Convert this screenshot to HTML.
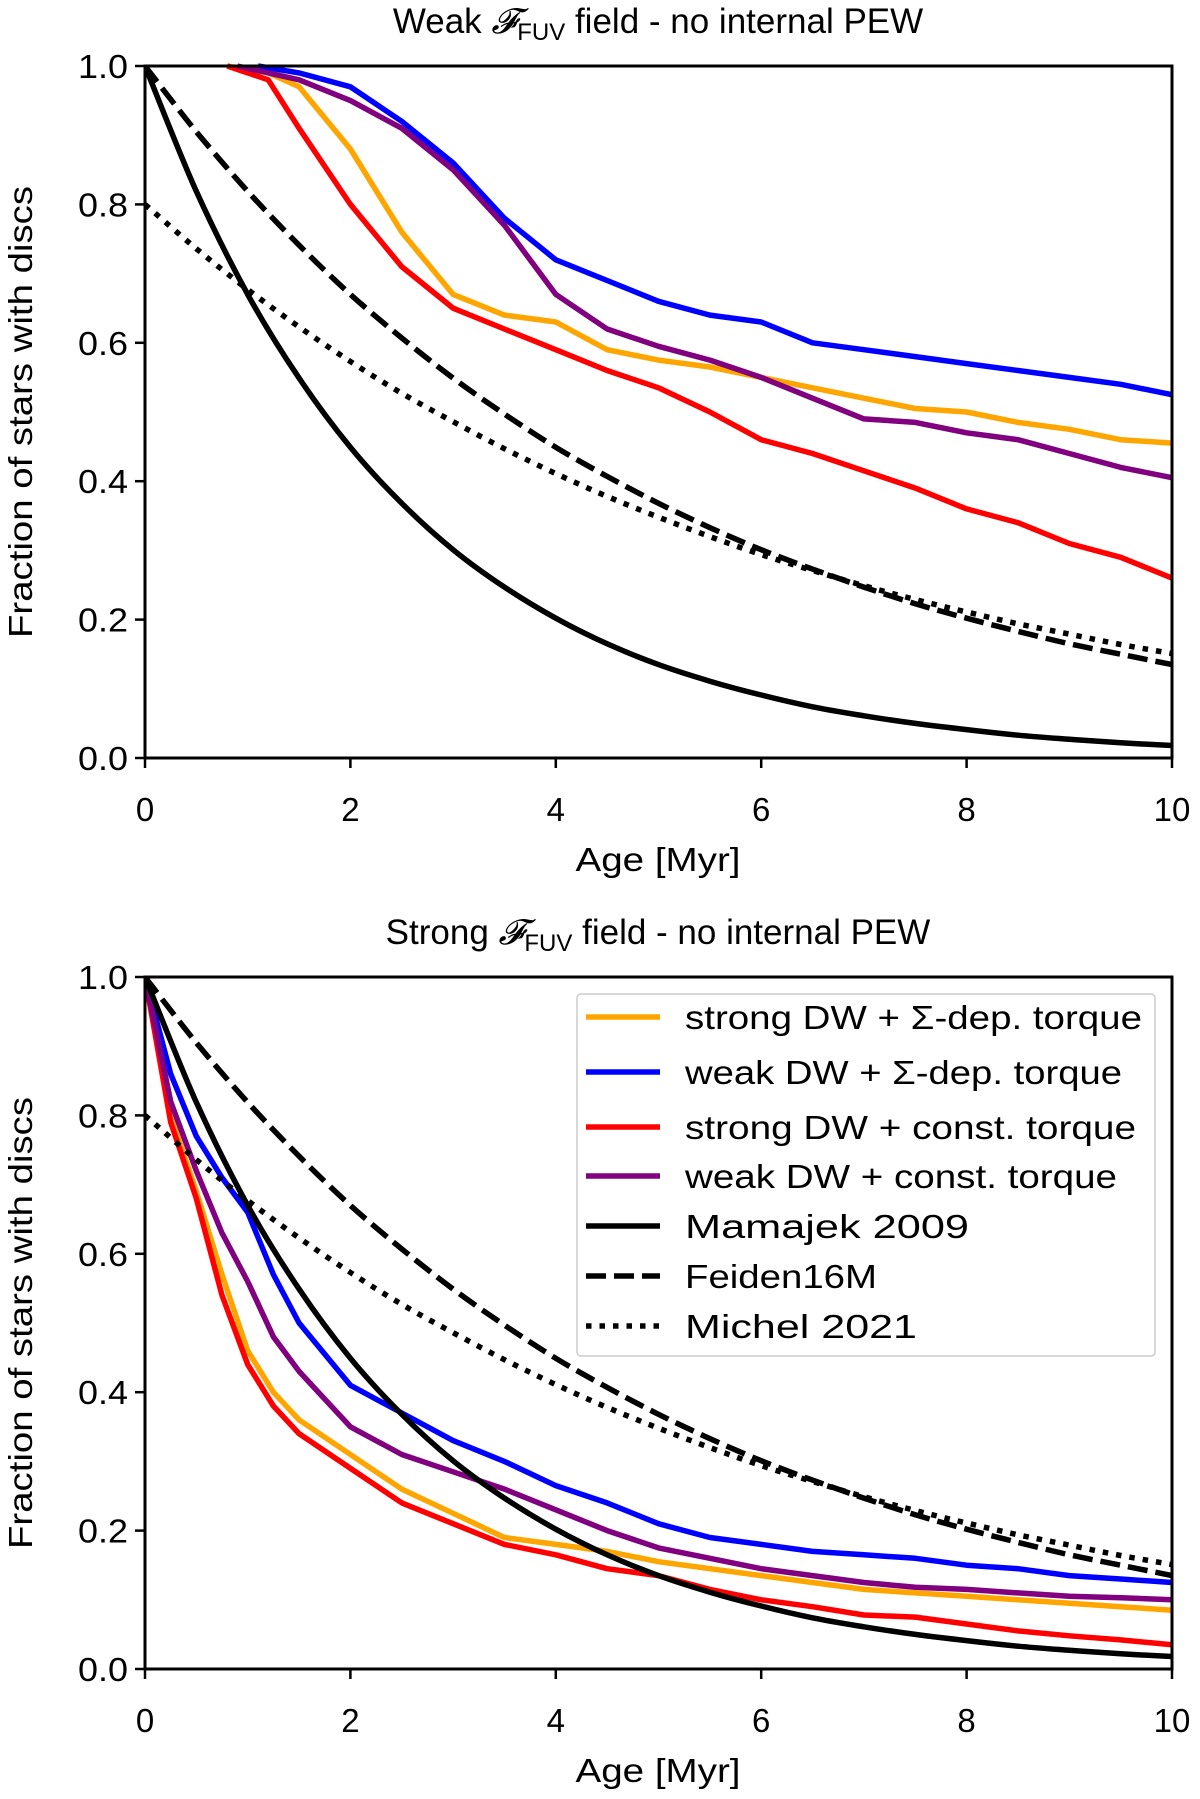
<!DOCTYPE html>
<html><head><meta charset="utf-8">
<style>
html,body{margin:0;padding:0;background:#fff;}
svg{display:block;font-family:"Liberation Sans","DejaVu Sans",sans-serif;}
</style></head>
<body>
<svg id="fig" width="1200" height="1799" viewBox="0 0 1200 1799" xmlns="http://www.w3.org/2000/svg"></svg>
<script>
// ---- data ----
const modelT = [0,0.5,1,1.5,2,2.5,3,3.5,4,4.5,5,5.5,6,6.5,7,7.5,8,8.5,9,9.5,10];
const mamajek = [1,.819,.670,.549,.449,.368,.301,.247,.202,.165,.135,.111,.091,.074,.061,.050,.041,.033,.027,.022,.018];
const feiden = [1,.905,.819,.741,.670,.607,.549,.497,.449,.407,.368,.333,.301,.273,.247,.223,.202,.183,.165,.150,.135];
const michel = [.800,.736,.677,.623,.573,.527,.486,.447,.411,.378,.348,.320,.294,.271,.249,.229,.211,.194,.179,.164,.151];

// top panel (weak field)
const wBlueT = [1.1,1.5,2,2.5,3,3.5,4,4.5,5,5.5,6,6.5,7,7.5,8,8.5,9,9.5,10];
const wBlueV = [1.0,0.99,0.97,0.92,0.86,0.78,0.72,0.69,0.66,0.64,0.63,0.60,0.59,0.58,0.57,0.56,0.55,0.54,0.525];
const wOrangeT = [0.8,1.2,1.5,2,2.5,3,3.5,4,4.5,5,5.5,6,6.5,7,7.5,8,8.5,9,9.5,10];
const wOrangeV = [1.0,0.99,0.97,0.88,0.76,0.67,0.64,0.63,0.59,0.575,0.565,0.55,0.535,0.52,0.505,0.50,0.485,0.475,0.46,0.455];
const wRedT = [0.8,1.2,1.5,2,2.5,3,3.5,4,4.5,5,5.5,6,6.5,7,7.5,8,8.5,9,9.5,10];
const wRedV = [1.0,0.98,0.91,0.80,0.71,0.65,0.62,0.59,0.56,0.535,0.50,0.46,0.44,0.415,0.39,0.36,0.34,0.31,0.29,0.26];
const wPurpleT = [0.9,1.5,2,2.5,3,3.5,4,4.5,5,5.5,6,6.5,7,7.5,8,8.5,9,9.5,10];
const wPurpleV = [1.0,0.98,0.95,0.91,0.85,0.77,0.67,0.62,0.595,0.575,0.55,0.52,0.49,0.485,0.47,0.46,0.44,0.42,0.405];

// bottom panel (strong field)
const sT = [0,0.25,0.5,0.75,1,1.25,1.5,2,2.5,3,3.5,4,4.5,5,5.5,6,6.5,7,7.5,8,8.5,9,9.5,10];
const sBlueV = [1.0,0.86,0.77,0.71,0.66,0.57,0.50,0.41,0.37,0.33,0.30,0.265,0.24,0.21,0.19,0.18,0.17,0.165,0.16,0.15,0.145,0.135,0.13,0.125];
const sPurpleV = [1.0,0.82,0.72,0.63,0.56,0.48,0.43,0.35,0.31,0.285,0.26,0.23,0.20,0.175,0.16,0.145,0.135,0.125,0.118,0.115,0.11,0.105,0.103,0.10];
const sOrangeV = [1.0,0.80,0.69,0.57,0.46,0.40,0.36,0.31,0.26,0.225,0.19,0.18,0.17,0.155,0.145,0.135,0.125,0.115,0.11,0.105,0.10,0.095,0.09,0.085];
const sRedV = [1.0,0.79,0.68,0.54,0.44,0.38,0.34,0.29,0.24,0.21,0.18,0.165,0.145,0.135,0.115,0.10,0.09,0.078,0.075,0.065,0.055,0.048,0.042,0.035];

const xTicks = [0,2,4,6,8,10];
const yTicks = [0,0.2,0.4,0.6,0.8,1.0];
const legendLabels = ["strong DW + Σ-dep. torque","weak DW + Σ-dep. torque","strong DW + const. torque","weak DW + const. torque","Mamajek 2009","Feiden16M","Michel 2021"];
const legendWidths = [457, 437, 451, 432, 284, 192, 232];

// ---- drawing ----
const NS = "http://www.w3.org/2000/svg";
const svg = document.getElementById("fig");
function mk(tag, attrs, parent){
  const e = document.createElementNS(NS, tag);
  for (const k in attrs) e.setAttribute(k, attrs[k]);
  (parent||svg).appendChild(e);
  return e;
}
function smoothPath(P){
  let d = "M" + P[0][0].toFixed(1) + "," + P[0][1].toFixed(1);
  for (let i = 0; i < P.length - 1; i++){
    const p0 = P[Math.max(0,i-1)], p1 = P[i], p2 = P[i+1], p3 = P[Math.min(P.length-1,i+2)];
    const c1 = [p1[0] + (p2[0]-p0[0])/6, p1[1] + (p2[1]-p0[1])/6];
    const c2 = [p2[0] - (p3[0]-p1[0])/6, p2[1] - (p3[1]-p1[1])/6];
    d += " C" + c1.map(v=>v.toFixed(1)).join(",") + " " + c2.map(v=>v.toFixed(1)).join(",") + " " + p2[0].toFixed(1) + "," + p2[1].toFixed(1);
  }
  return d;
}
const X0 = 145, X1 = 1172;
function panel(top, bottom, titleMain, key, series, withLegend){
  const g = mk("g", {});
  
  
  const sx = t => X0 + (X1 - X0) * t / 10;
  const sy = v => bottom - (bottom - top) * v;
  const tt = mk("text", {x: 658, y: top - 33, "text-anchor": "middle", "font-size": 35, fill: "#000"}, g);
  
  
  tt.innerHTML = titleMain + ' <tspan font-family="Liberation Serif, serif" font-style="italic">𝓕</tspan><tspan font-size="24" dy="7">FUV</tspan><tspan dy="-7"> field - no internal PEW</tspan>';
  const clip = mk("clipPath", {id: "clip-" + key}, g);
  mk("rect", {x: X0, y: top - 4, width: X1 - X0, height: bottom - top + 8}, clip);
  const sg = mk("g", {"clip-path": "url(#clip-" + key + ")"}, g);
  series.forEach(s => {
    const P = s.t.map((t, i) => [sx(t), sy(s.v[i])]);
    let p;
    if (s.smooth) {
      p = mk("path", {d: smoothPath(P), fill: "none", stroke: s.c, "stroke-width": 5.5}, sg);
    } else {
      p = mk("polyline", {points: P.map(q => q[0].toFixed(1) + "," + q[1].toFixed(1)).join(" "), fill: "none", stroke: s.c, "stroke-width": 5.5, "stroke-linejoin": "round"}, sg);
    }
    if (s.d) p.setAttribute("stroke-dasharray", s.d);
    
    
  });
  const fr = mk("rect", {x: X0, y: top, width: X1 - X0, height: bottom - top, fill: "none", stroke: "#000", "stroke-width": 3}, g);
  
  
  xTicks.forEach(t => {
    mk("line", {x1: sx(t), x2: sx(t), y1: bottom, y2: bottom + 10, stroke: "#000", "stroke-width": 2.5}, g);
    const l = mk("text", {x: sx(t), y: bottom + 63, "text-anchor": "middle", "font-size": 33}, g);
    l.textContent = t;
    
    
  });
  yTicks.forEach(v => {
    mk("line", {x1: X0 - 10, x2: X0, y1: sy(v), y2: sy(v), stroke: "#000", "stroke-width": 2.5}, g);
    const l = mk("text", {x: 128, y: sy(v) + 12, "text-anchor": "end", "font-size": 33, textLength: 50, lengthAdjust: "spacingAndGlyphs"}, g);
    l.textContent = v.toFixed(1);
    
    
  });
  const xl = mk("text", {x: 658, y: bottom + 113, "text-anchor": "middle", "font-size": 33, textLength: 165, lengthAdjust: "spacingAndGlyphs"}, g);
  xl.textContent = "Age [Myr]";
  
  
  const cy = (top + bottom) / 2;
  const yl = mk("text", {x: 32, y: cy, "text-anchor": "middle", "font-size": 33, textLength: 452, lengthAdjust: "spacingAndGlyphs", transform: "rotate(-90 32 " + cy + ")"}, g);
  yl.textContent = "Fraction of stars with discs";
  
  
  if (withLegend) {
    const lg = mk("g", {}, g);
    
    
    mk("rect", {x: 577, y: 994, width: 578, height: 362, rx: 4, fill: "#fff", "fill-opacity": 0.8, stroke: "#ccc", "stroke-width": 1.5}, lg);
    const ys = [1017, 1072, 1127, 1176, 1226, 1276, 1326];
    series.forEach((s, i) => {
      const e = mk("g", {}, lg);
      
      
      const ln = mk("line", {x1: 586, x2: 660, y1: ys[i], y2: ys[i], stroke: s.c, "stroke-width": 5.5}, e);
      if (s.d) ln.setAttribute("stroke-dasharray", s.d);
      const tx = mk("text", {x: 685, y: ys[i] + 12, "font-size": 33, textLength: legendWidths[i], lengthAdjust: "spacingAndGlyphs"}, e);
      tx.textContent = legendLabels[i];
    });
  }
}
function seriesSet(o, b, r, p){
  return [
    {n: "strong-dw-sigma-dep", c: "#ffa500", t: o[0], v: o[1]},
    {n: "weak-dw-sigma-dep", c: "#0000ff", t: b[0], v: b[1]},
    {n: "strong-dw-const", c: "#ff0000", t: r[0], v: r[1]},
    {n: "weak-dw-const", c: "#800080", t: p[0], v: p[1]},
    {n: "mamajek-2009", c: "#000", t: modelT, v: mamajek, smooth: true},
    {n: "feiden16m", c: "#000", t: modelT, v: feiden, d: "20,8", smooth: true},
    {n: "michel-2021", c: "#000", t: modelT, v: michel, d: "5.5,8", smooth: true}
  ];
}
panel(66, 758, "Weak", "weak-field", seriesSet([wOrangeT, wOrangeV], [wBlueT, wBlueV], [wRedT, wRedV], [wPurpleT, wPurpleV]), false);
panel(977, 1669, "Strong", "strong-field", seriesSet([sT, sOrangeV], [sT, sBlueV], [sT, sRedV], [sT, sPurpleV]), true);
</script>
</body></html>
